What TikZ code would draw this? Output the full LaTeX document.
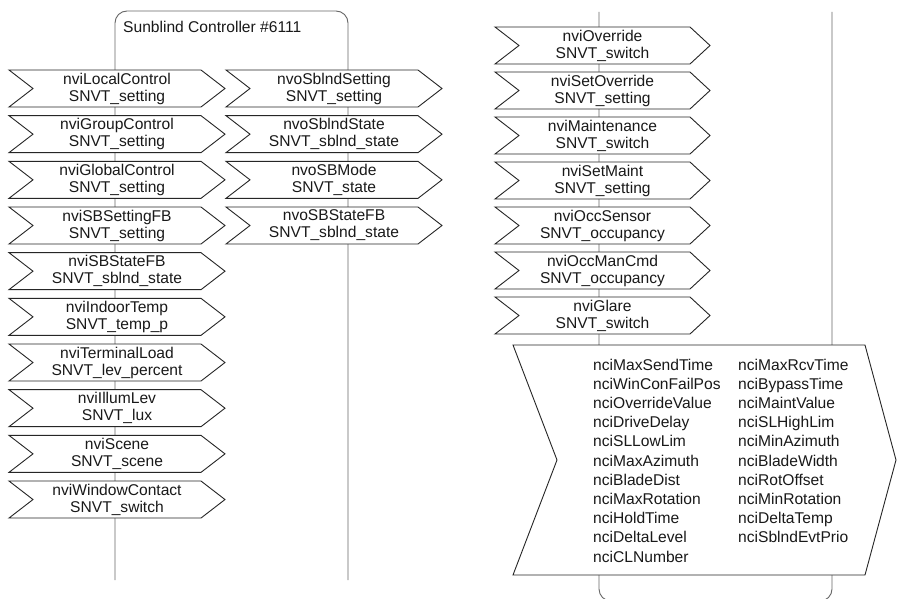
\documentclass[tikz,border=0pt]{standalone}
\usepackage{fontspec}
\setmainfont{Liberation Sans}
\newcommand\sigbox[7]{%
  \draw[sigline] (#2,#3) -- ++(#4,0) -- ++(#5,18.5) -- ++(-#5,18.5) -- ++(-#4,0) -- ++(24,-18.5) -- cycle;
  \node[sigtext] (#1) at ({#2+(#4+#5)/2},{#3+18.5}) {#6\\#7};
}
\begin{document}
\begin{tikzpicture}[x=1pt,y=-1pt,
  panel/.style={draw=black!60, line width=0.9pt},
  sigline/.style={draw=black!85, fill=white, line width=0.9pt, line join=miter},
  sigtext/.style={align=center, inner sep=0pt, font=\fontsize{15.6}{17}\selectfont, text=black!90},
  ncitext/.style={inner sep=0pt, font=\fontsize{15.6}{17}\selectfont, text=black!90, anchor=base west},
]
\useasboundingbox (0,0) rectangle (897,599);
\clip (0,0) rectangle (897,599);
\fill[white] (0,0) rectangle (897,599);
% panels
\draw[panel, rounded corners=12pt] (115,580) -- (115,11) -- (348,11) -- (348,580);
\node[ncitext] (title) at (123,33) {Sunblind Controller \#6111};
\draw[panel, rounded corners=12pt] (599,12) -- (599,601) -- (832,601) -- (832,12);
% left column
\foreach [count=\i from 0] \a/\b in {nviLocalControl/SNVT\_setting, nviGroupControl/SNVT\_setting, nviGlobalControl/SNVT\_setting, nviSBSettingFB/SNVT\_setting, nviSBStateFB/SNVT\_sblnd\_state, nviIndoorTemp/SNVT\_temp\_p, nviTerminalLoad/SNVT\_lev\_percent, nviIllumLev/SNVT\_lux, nviScene/SNVT\_scene, nviWindowContact/SNVT\_switch}
  {\sigbox{L\i}{9}{70+45.67*\i}{192}{24}{\a}{\b}}
% second column
\foreach [count=\i from 0] \a/\b in {nvoSblndSetting/SNVT\_setting, nvoSblndState/SNVT\_sblnd\_state, nvoSBMode/SNVT\_state, nvoSBStateFB/SNVT\_sblnd\_state}
  {\sigbox{O\i}{226}{70+45.67*\i}{192}{24}{\a}{\b}}
% right column
\foreach [count=\i from 0] \a/\b in {nviOverride/SNVT\_switch, nviSetOverride/SNVT\_setting, nviMaintenance/SNVT\_switch, nviSetMaint/SNVT\_setting, nviOccSensor/SNVT\_occupancy, nviOccManCmd/SNVT\_occupancy, nviGlare/SNVT\_switch}
  {\sigbox{R\i}{495}{27+45*\i}{195}{20}{\a}{\b}}
% nci block
\draw[sigline] (513,345) -- (865,345) -- (896,460) -- (865,575) -- (513,575) -- (557,460) -- cycle;
\foreach [count=\i from 0] \t in {nciMaxSendTime, nciWinConFailPos, nciOverrideValue, nciDriveDelay, nciSLLowLim, nciMaxAzimuth, nciBladeDist, nciMaxRotation, nciHoldTime, nciDeltaLevel, nciCLNumber}
  {\node[ncitext] (ca\i) at (593,{370+19.2*\i}) {\t};}
\foreach [count=\i from 0] \t in {nciMaxRcvTime, nciBypassTime, nciMaintValue, nciSLHighLim, nciMinAzimuth, nciBladeWidth, nciRotOffset, nciMinRotation, nciDeltaTemp, nciSblndEvtPrio}
  {\node[ncitext] (cb\i) at (738,{370+19.2*\i}) {\t};}
\end{tikzpicture}
\end{document}
